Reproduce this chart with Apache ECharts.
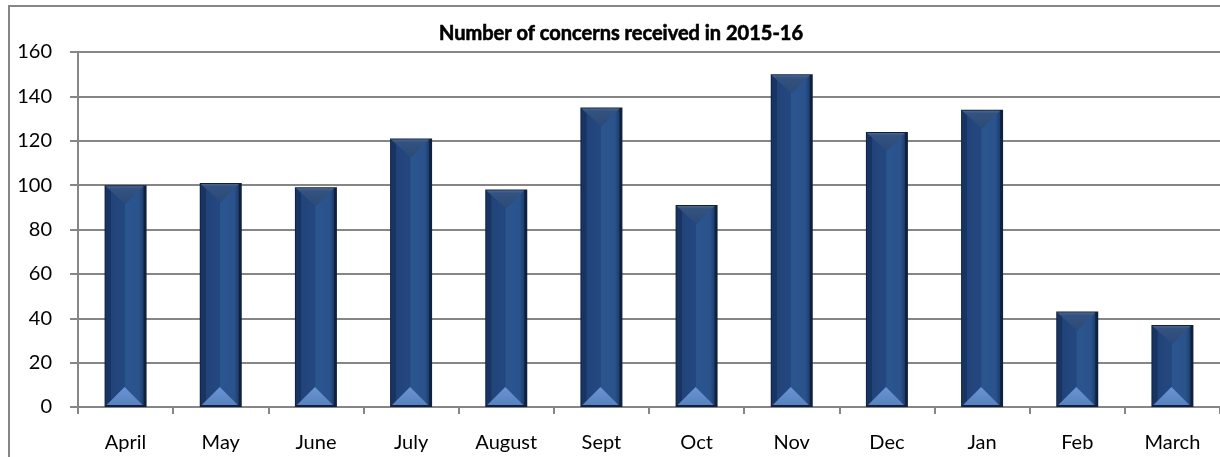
<!DOCTYPE html>
<html><head><meta charset="utf-8">
<script src="https://cdn.jsdelivr.net/npm/echarts@6/dist/echarts.min.js"></script>
<style>html,body{margin:0;padding:0;background:#fff}#c{width:1220px;height:457px}</style>
</head><body><div id="c"></div>
<script>
var categories = ['April','May','June','July','August','Sept','Oct','Nov','Dec','Jan','Feb','March'];
var values = [100,101,99,121,98,135,91,150,124,134,43,37];
var yTicks = [0,20,40,60,80,100,120,140,160];
var titleText = 'Number of concerns received in 2015-16';

var chart = echarts.init(document.getElementById('c'));
var FONT = 'Lato';
function renderBar(params, api) {
  var x = api.value(0), v = api.value(1);
  var top = api.coord([x, v]);
  var base = api.coord([x, 0]);
  var bw = 42;
  var x0 = top[0] - bw / 2, x1 = x0 + bw, y0 = top[1], y1 = base[1], h = y1 - y0;
  var cx = top[0];
  var tri = Math.min(18, h / 2 - 2);
  return {
    type: 'group',
    children: [
      {type: 'rect', shape: {x: x0, y: y0, width: bw, height: h},
       style: {fill: '#0f213f'}},
      {type: 'rect', shape: {x: x0 + 1, y: y0 + 1, width: bw - 4, height: h - 3},
       style: {fill: new echarts.graphic.LinearGradient(0, 0, 1, 0, [
         {offset: 0, color: '#183463'}, {offset: 0.13, color: '#183463'},
         {offset: 0.14, color: '#21437a'}, {offset: 0.5, color: '#23487f'},
         {offset: 0.52, color: '#2b558f'}, {offset: 0.88, color: '#2a538c'},
         {offset: 1, color: '#1d3d6e'}])}},
      {type: 'polygon', shape: {points: [[x0 + 1, y0 + 1], [x1 - 3, y0 + 1], [cx, y0 + 1 + tri]]},
       style: {fill: new echarts.graphic.LinearGradient(0, 0, 0, 1, [
         {offset: 0, color: '#4a6690'}, {offset: 0.15, color: '#34527f'}, {offset: 1, color: '#2b4a78'}])}},
      {type: 'polygon', shape: {points: [[x0 + 2, y1 - 2], [x1 - 4, y1 - 2], [cx - 1, y1 - 2 - tri]]},
       style: {fill: new echarts.graphic.LinearGradient(0, 0, 0, 1, [
         {offset: 0, color: '#6a95d2'}, {offset: 1, color: '#5881bf'}])}}
    ]
  };
}
chart.setOption({
  animation: false,
  title: {text: titleText, left: 616, top: 19, textAlign: 'center',
    textStyle: {fontFamily: FONT, fontSize: 20, fontWeight: 'bold', color: '#000',
      textBorderColor: '#000', textBorderWidth: 0.6}},
  grid: {left: 78, right: 0, top: 52, bottom: 50, containLabel: false},
  xAxis: {type: 'category', data: categories,
    axisLine: {lineStyle: {color: '#868686', width: 2}},
    axisTick: {show: true, length: 7, lineStyle: {color: '#868686', width: 2}},
    axisLabel: {color: '#000', fontFamily: FONT, fontSize: 20, margin: 26}},
  yAxis: {type: 'value', min: 0, max: 160, interval: 20,
    axisLine: {show: true, lineStyle: {color: '#868686', width: 2}},
    axisTick: {show: true, length: 8, lineStyle: {color: '#868686', width: 2}},
    axisLabel: {color: '#000', fontFamily: FONT, fontSize: 20, margin: 26,
      formatter: function (v) { return yTicks.indexOf(v) >= 0 ? String(v) : ''; }},
    splitLine: {lineStyle: {color: '#868686', width: 2}}},
  series: [{type: 'custom', renderItem: renderBar,
    data: values.map(function (v, i) { return [i, v]; }), encode: {x: 0, y: 1}}],
  graphic: [{type: 'rect', shape: {x: 9, y: 6, width: 1220, height: 460},
    style: {fill: 'none', stroke: '#868686', lineWidth: 2}, z: 100}]
});
</script></body></html>
